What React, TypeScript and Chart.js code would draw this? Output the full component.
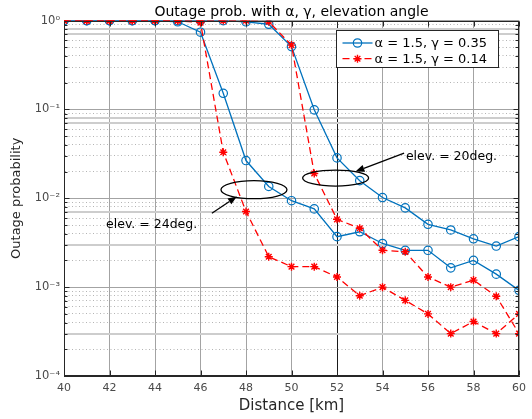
import React, { useEffect, useRef } from 'react';
import { Chart, registerables } from 'chart.js';

Chart.register(...registerables);

// ---------- data ----------
const distanceKm = [40, 41, 42, 43, 44, 45, 46, 47, 48, 49, 50, 51, 52, 53, 54, 55, 56, 57, 58, 59, 60];

// alpha = 1.5, gamma = 0.35 (blue, solid, circles)
const blueElev24 = [1, 1, 1, 1, 1, 0.97, 0.74, 0.152, 0.0266, 0.0136, 0.0094, 0.0076, 0.0037, 0.0042, 0.0031, 0.0026, 0.0026, 0.00165, 0.002, 0.0014, 0.00092];
const blueElev20 = [1, 1, 1, 1, 1, 1, 1, 1, 0.97, 0.91, 0.51, 0.099, 0.0285, 0.0158, 0.0102, 0.0078, 0.0051, 0.0044, 0.0035, 0.0029, 0.0037];

// alpha = 1.5, gamma = 0.14 (red, dashed, stars)
const redElev24 = [1, 1, 1, 1, 1, 1, 0.95, 0.033, 0.0071, 0.0022, 0.0017, 0.0017, 0.0013, 0.0008, 0.001, 0.00071, 0.0005, 0.0003, 0.00041, 0.0003, 0.0005];
const redElev20 = [1, 1, 1, 1, 1, 1, 1, 1, 1, 0.97, 0.53, 0.019, 0.0058, 0.0046, 0.0026, 0.0025, 0.0013, 0.001, 0.0012, 0.00079, 0.0003];

const seriesLabels = ['α = 1.5, γ = 0.35', 'α = 1.5, γ = 0.14'];

const xTickStep = 2;
const xMin = 40;
const xMax = 60;
const yDecades = [1e-4, 1e-3, 1e-2, 1e-1, 1];
const yDecadeLabels = ['10⁻⁴', '10⁻³', '10⁻²', '10⁻¹', '10⁰'];
const minorMantissas = [2, 3, 4, 5, 6, 7, 8, 9];
// minor grid lines that appear as solid light-gray bands in the reference
const bandedMinor = [0.8, 0.7, 0.08, 0.07, 0.007, 0.003, 0.0003];
const darkGridX = [52];

const chartTitle = 'Outage prob. with α, γ, elevation angle';
const xTitle = 'Distance [km]';
const yTitle = 'Outage probability';

const ellipseNotes = [
  { x: 48.35, y: 0.0125, rx: 33, ry: 9 },
  { x: 51.94, y: 0.0169, rx: 33, ry: 8 },
];
const arrowNotes = [
  { fromX: 46.5, fromY: 0.0068, toX: 47.6, toY: 0.0105 },
  { fromX: 54.95, fromY: 0.0322, toX: 52.81, toY: 0.02 },
];
const textNotes = [
  { x: 41.85, y: 0.0051, text: 'elev. = 24deg.' },
  { x: 55.03, y: 0.0295, text: 'elev. = 20deg.' },
];

const BLUE = '#0072BD';
const RED = '#FF0000';
const FONT = "'DejaVu Sans', 'Liberation Sans', Arial, sans-serif";

const near = (a: number, b: number) => Math.abs(a - b) <= Math.abs(b) * 1e-6;
const isDecade = (v: number) => yDecades.some((d) => near(v, d));
const isBanded = (v: number) => bandedMinor.some((d) => near(v, d));

const toPoints = (vals: number[]) => distanceKm.map((d, i) => ({ x: d, y: vals[i] }));

function drawStar(ctx: CanvasRenderingContext2D, cx: number, cy: number, r: number) {
  ctx.beginPath();
  for (let k = 0; k < 4; k++) {
    const a = (k * Math.PI) / 4;
    ctx.moveTo(cx - r * Math.cos(a), cy - r * Math.sin(a));
    ctx.lineTo(cx + r * Math.cos(a), cy + r * Math.sin(a));
  }
  ctx.stroke();
}

const overlayPlugin = {
  id: 'overlay',
  afterDatasetsDraw(chart: any) {
    const { ctx, chartArea: a, scales } = chart;
    const xs = scales.x;
    const ys = scales.y;
    ctx.save();

    // frame
    ctx.strokeStyle = '#262626';
    ctx.lineWidth = 1;
    const L = Math.round(a.left) + 0.5;
    const T = Math.round(a.top) + 0.5;
    const R = Math.round(a.right) - 0.5;
    const B = Math.round(a.bottom) - 0.5;
    ctx.strokeRect(L, T, R - L, B - T);

    // inward ticks
    ctx.beginPath();
    for (const t of ys.ticks) {
      const py = Math.round(ys.getPixelForValue(t.value)) + 0.5;
      const len = isDecade(t.value) ? 5 : 3;
      ctx.moveTo(L, py); ctx.lineTo(L + len, py);
      ctx.moveTo(R, py); ctx.lineTo(R - len, py);
    }
    for (const t of xs.ticks) {
      const px = Math.round(xs.getPixelForValue(t.value)) + 0.5;
      ctx.moveTo(px, B); ctx.lineTo(px, B - 5);
      ctx.moveTo(px, T); ctx.lineTo(px, T + 5);
    }
    ctx.stroke();

    // annotations
    ctx.strokeStyle = '#000';
    ctx.fillStyle = '#000';
    ctx.lineWidth = 1.3;
    for (const e of ellipseNotes) {
      ctx.beginPath();
      ctx.ellipse(xs.getPixelForValue(e.x), ys.getPixelForValue(e.y), e.rx, e.ry, 0, 0, Math.PI * 2);
      ctx.stroke();
    }
    for (const ar of arrowNotes) {
      const x0 = xs.getPixelForValue(ar.fromX);
      const y0 = ys.getPixelForValue(ar.fromY);
      const x1 = xs.getPixelForValue(ar.toX);
      const y1 = ys.getPixelForValue(ar.toY);
      const ang = Math.atan2(y1 - y0, x1 - x0);
      const hl = 9;
      const hw = 3.5;
      const bx = x1 - hl * Math.cos(ang);
      const by = y1 - hl * Math.sin(ang);
      ctx.beginPath();
      ctx.moveTo(x0, y0);
      ctx.lineTo(bx, by);
      ctx.stroke();
      ctx.beginPath();
      ctx.moveTo(x1, y1);
      ctx.lineTo(bx + hw * Math.sin(ang), by - hw * Math.cos(ang));
      ctx.lineTo(bx - hw * Math.sin(ang), by + hw * Math.cos(ang));
      ctx.closePath();
      ctx.fill();
    }
    ctx.font = `12.5px ${FONT}`;
    ctx.textBaseline = 'middle';
    ctx.textAlign = 'left';
    for (const t of textNotes) {
      ctx.fillText(t.text, xs.getPixelForValue(t.x), ys.getPixelForValue(t.y));
    }

    // legend
    const entries = chart.data.datasets.filter((d: any) => d.inLegend);
    const boxW = 162;
    const boxH = 37;
    const bx0 = Math.round(a.right - 21.5 - boxW) + 0.5;
    const by0 = Math.round(a.top + 9) + 0.5;
    ctx.fillStyle = '#fff';
    ctx.fillRect(bx0, by0, boxW, boxH);
    ctx.strokeStyle = '#262626';
    ctx.lineWidth = 1;
    ctx.strokeRect(bx0, by0, boxW, boxH);
    ctx.font = `13px ${FONT}`;
    entries.forEach((d: any, i: number) => {
      const yy = by0 + 12.5 + i * 15.7;
      ctx.strokeStyle = d.borderColor;
      ctx.lineWidth = d.borderWidth;
      ctx.setLineDash(d.borderDash || []);
      ctx.beginPath();
      ctx.moveTo(bx0 + 6, yy);
      ctx.lineTo(bx0 + 36, yy);
      ctx.stroke();
      ctx.setLineDash([]);
      ctx.lineWidth = d.pointBorderWidth;
      if (d.pointStyle === 'star') {
        drawStar(ctx, bx0 + 21, yy, d.pointRadius);
      } else {
        ctx.beginPath();
        ctx.arc(bx0 + 21, yy, d.pointRadius, 0, Math.PI * 2);
        ctx.stroke();
      }
      ctx.fillStyle = '#000';
      ctx.fillText(d.label, bx0 + 38, yy + 0.5);
    });

    ctx.restore();
  },
};

export default function App() {
  const canvasRef = useRef<HTMLCanvasElement | null>(null);

  useEffect(() => {
    const canvas = canvasRef.current;
    if (!canvas) return;

    const blueStyle = {
      borderColor: BLUE,
      backgroundColor: 'rgba(0,0,0,0)',
      pointBackgroundColor: 'rgba(0,0,0,0)',
      pointBorderColor: BLUE,
      pointStyle: 'circle',
      pointRadius: 4.2,
      pointBorderWidth: 1.2,
      borderWidth: 1.3,
      tension: 0,
      order: 1,
    };
    const redStyle = {
      borderColor: RED,
      backgroundColor: RED,
      pointBackgroundColor: RED,
      pointBorderColor: RED,
      pointStyle: 'star',
      pointRadius: 4,
      pointBorderWidth: 1.4,
      borderWidth: 1.3,
      borderDash: [7, 4],
      tension: 0,
      order: 0,
    };

    const chart = new Chart(canvas, {
      type: 'line',
      data: {
        datasets: [
          { label: seriesLabels[0], data: toPoints(blueElev24), inLegend: true, ...blueStyle },
          { label: seriesLabels[0], data: toPoints(blueElev20), inLegend: false, ...blueStyle },
          { label: seriesLabels[1], data: toPoints(redElev24), inLegend: true, ...redStyle },
          { label: seriesLabels[1], data: toPoints(redElev20), inLegend: false, ...redStyle },
        ] as any,
      },
      options: {
        responsive: false,
        animation: false,
        events: [],
        layout: { padding: { left: 0, right: 8, top: 0, bottom: 0 } },
        plugins: {
          legend: { display: false },
          tooltip: { enabled: false },
          title: {
            display: true,
            text: chartTitle,
            fullSize: false,
            color: '#000',
            font: { family: FONT, size: 14, weight: 'normal', lineHeight: 1.2 },
            padding: { top: 3.5, bottom: 0.3 },
          },
        },
        scales: {
          x: {
            type: 'linear',
            min: xMin,
            max: xMax,
            ticks: {
              stepSize: xTickStep,
              color: '#4a4a4a',
              font: { family: FONT, size: 11 },
              padding: 6,
              maxRotation: 0,
            },
            grid: {
              drawTicks: false,
              color: (c: any) => (c.tick && darkGridX.includes(c.tick.value) ? '#1a1a1a' : '#a3a3a3'),
              lineWidth: 1,
            },
            border: { display: true, color: '#262626' },
            title: {
              display: true,
              text: xTitle,
              color: '#262626',
              font: { family: FONT, size: 15 },
              padding: { top: 0, bottom: 4 },
            },
            afterFit: (s: any) => { s.height = 43; },
          },
          y: {
            type: 'logarithmic',
            min: 1e-4,
            max: 1,
            afterBuildTicks: (s: any) => {
              const t: any[] = [];
              yDecades.forEach((d, i) => {
                t.push({ value: d, major: true });
                if (i < yDecades.length - 1) minorMantissas.forEach((m) => t.push({ value: d * m, major: false }));
              });
              s.ticks = t;
            },
            ticks: {
              autoSkip: false,
              color: '#4a4a4a',
              font: { family: FONT, size: 11.5 },
              padding: 4,
              callback: (v: any) => {
                const idx = yDecades.findIndex((d) => near(Number(v), d));
                return idx >= 0 ? yDecadeLabels[idx] : '';
              },
            },
            grid: {
              drawTicks: false,
              color: (c: any) => {
                if (!c.tick) return '#a3a3a3';
                const v = c.tick.value;
                if (isDecade(v)) return '#a3a3a3';
                if (isBanded(v)) return '#cdcdcd';
                return '#b4b4b4';
              },
              lineWidth: (c: any) => (c.tick && !isDecade(c.tick.value) && isBanded(c.tick.value) ? 2 : 1),
            },
            border: {
              display: true,
              color: '#262626',
              dash: (c: any) => {
                if (!c.tick) return [];
                const v = c.tick.value;
                if (isDecade(v) || isBanded(v)) return [];
                return [1, 2.5];
              },
            },
            title: {
              display: true,
              text: yTitle,
              color: '#262626',
              font: { family: FONT, size: 13 },
              padding: { top: 9, bottom: 0 },
            },
            afterFit: (s: any) => { s.width = 64; },
          },
        },
      } as any,
      plugins: [overlayPlugin],
    });

    return () => chart.destroy();
  }, []);

  return (
    <div style={{ position: 'fixed', left: 0, top: 0, width: 532, height: 419, background: '#fff' }}>
      <canvas ref={canvasRef} width={532} height={419} />
    </div>
  );
}
